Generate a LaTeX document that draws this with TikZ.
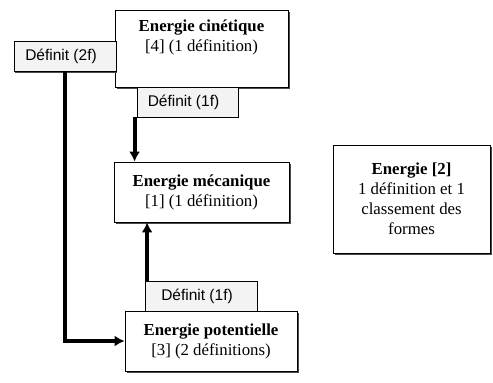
\documentclass[tikz,border=0pt]{standalone}
\usepackage{fontspec}
\setmainfont{Liberation Serif}
\setsansfont{Liberation Sans}
\usetikzlibrary{arrows.meta, shadows}
\definecolor{cshade}{HTML}{4A4A4A}
\definecolor{clabel}{HTML}{F3F3F3}
\tikzset{
  every picture/.style={line width=0.8pt},
  btxt/.style={align=center, inner sep=0pt, font=\fontsize{16.8}{20}\selectfont},
  box/.style={btxt, draw=black, fill=white,
    drop shadow={shadow xshift=1.6pt, shadow yshift=-1.6pt, fill=cshade, opacity=1}},
  defn/.style={draw=black, fill=clabel, inner sep=0pt, minimum height=30pt,
    font=\sffamily\fontsize{15.5}{18}\selectfont, execute at begin node={\hspace*{-8pt}},
    drop shadow={shadow xshift=1.2pt, shadow yshift=-1.2pt, fill=cshade, opacity=1}},
  arrow/.style={-{Latex[length=10pt, width=11pt]}, line width=4.2pt},
}

\begin{document}
\begin{tikzpicture}[x=1pt, y=-1pt]
  \useasboundingbox (0,0) rectangle (493,383);
  % concepts
  \node[box, minimum width=173pt, minimum height=77pt] (cin) at (201.5,48.5) {};
  \node[btxt] (cintxt) at (201.5,37) {\textbf{Energie cinétique}\\{[4]} (1 définition)};
  \node[box, minimum width=175pt, minimum height=60pt] (mec) at (201.5,192) {\textbf{Energie mécanique}\\{[1]} (1 définition)};
  \node[box, minimum width=172pt, minimum height=60pt] (pot) at (211,341) {\textbf{Energie potentielle}\\{[3]} (2 définitions)};
  \node[box, minimum width=157pt, minimum height=108pt] (ene) at (411.5,199) {\textbf{Energie [2]}\\1 définition et 1\\classement des\\formes};
  % liens
  \node[defn, minimum width=102pt] (def2) at (65,56.5) {Définit (2f)};
  \node[defn, minimum width=101pt] (def1) at (187.5,102) {Définit (1f)};
  \node[defn, minimum width=112pt] (def3) at (201,296) {Définit (1f)};
  \draw[arrow] ([xshift=-2pt]def1.south west) -- ([xshift=-2pt]def1.south west |- mec.north);
  \draw[arrow] ([xshift=2.5pt]def3.north west) -- ([xshift=2.5pt]def3.north west |- mec.south);
  \draw[arrow] (def2.south) -- (def2.south |- pot.west) -- (pot.west);
\end{tikzpicture}
\end{document}
